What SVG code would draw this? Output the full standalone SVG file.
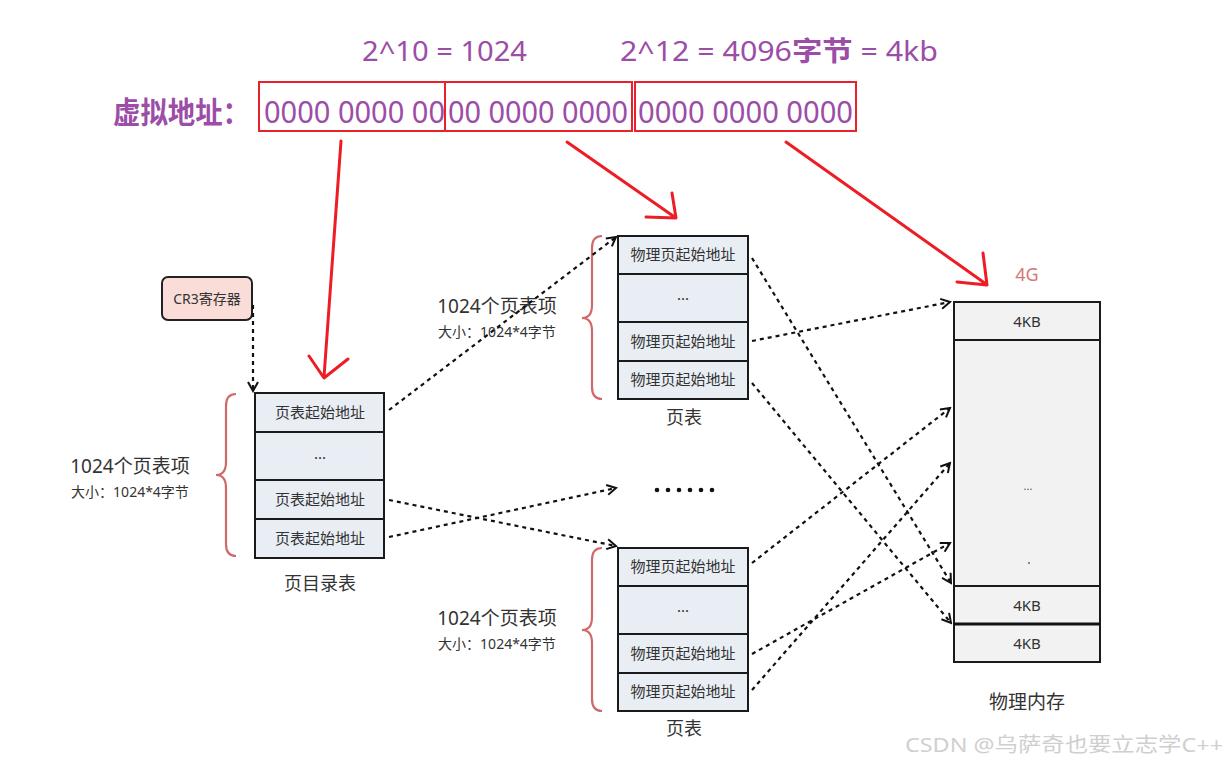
<svg xmlns="http://www.w3.org/2000/svg" width="1232" height="765" viewBox="0 0 1232 765">
  <defs>
    <marker id="open" viewBox="0 0 12 12" refX="10" refY="6" markerWidth="12" markerHeight="12" markerUnits="userSpaceOnUse" orient="auto">
      <path d="M1,1 L10,6 L1,11" fill="none" stroke="#111" stroke-width="2"/>
    </marker>
  </defs>
  <style>
    .cjk { font-family: "Noto Sans", "Noto Sans CJK SC", sans-serif; }
    .purple { fill: #9b4da7; }
    .addr { font-size: 30px; }
    .head { font-size: 27px; }
    .redbox { fill: none; stroke: #e8222a; stroke-width: 2; }
    .redpen { fill: none; stroke: #ee1c24; stroke-width: 3; stroke-linecap: round; stroke-linejoin: round; }
    .cell { fill: #e9eef4; stroke: #1a1a1a; stroke-width: 2; }
    .mem { fill: #f2f2f2; stroke: #1a1a1a; stroke-width: 2; }
    .ct { font-size: 15px; fill: #333; text-anchor: middle; }
    .lbl { font-size: 18px; fill: #333; text-anchor: middle; }
    .big { font-size: 19px; fill: #333; text-anchor: middle; }
    .sub { font-size: 14px; fill: #333; text-anchor: middle; }
    .brace { fill: none; stroke: #d06a6a; stroke-width: 2.2; }
    .dash { fill: none; stroke: #111; stroke-width: 2.2; stroke-dasharray: 4 4; marker-end: url(#open); }
  </style>
  <rect width="1232" height="765" fill="#ffffff"/>

  <!-- address bit fields -->
  <g id="address">
    <text class="cjk purple head" x="362" y="61" textLength="165" lengthAdjust="spacingAndGlyphs">2^10 = 1024</text>
    <text class="cjk purple head" x="620" y="61" textLength="318" lengthAdjust="spacingAndGlyphs">2^12 = 4096<tspan font-weight="bold">字节</tspan> = 4kb</text>
    <text class="cjk purple addr" x="113" y="123" font-weight="bold" font-size="28" textLength="137" lengthAdjust="spacingAndGlyphs">虚拟地址：</text>
    <rect class="redbox" x="259" y="82" width="186" height="49"/>
    <rect class="redbox" x="445" y="82" width="187" height="49"/>
    <rect class="redbox" x="635" y="82" width="221" height="49"/>
    <text class="cjk purple addr" x="264" y="123" textLength="181" lengthAdjust="spacingAndGlyphs">0000 0000 00</text>
    <text class="cjk purple addr" x="448" y="123" textLength="180" lengthAdjust="spacingAndGlyphs">00 0000 0000</text>
    <text class="cjk purple addr" x="638" y="123" textLength="215" lengthAdjust="spacingAndGlyphs">0000 0000 0000</text>
  </g>

  <!-- hand-drawn red pointers -->
  <g id="red-arrows">
    <path class="redpen" d="M341,141 L324,377 M309,356 L324,378 L348,359"/>
    <path class="redpen" d="M567,142 L676,218 M646,217 L676,218 L672,193"/>
    <path class="redpen" d="M786,142 L986,284 M957,282 L987,285 L983,253"/>
  </g>

  <!-- CR3 register -->
  <g id="cr3">
    <rect x="162" y="277" width="90" height="43" rx="6" fill="#fadcd8" stroke="#222" stroke-width="2"/>
    <text class="cjk" x="207" y="304" font-size="14" fill="#333" text-anchor="middle">CR3寄存器</text>
  </g>

  <!-- page directory -->
  <g id="page-directory">
    <path class="brace" d="M236,394 Q226,394 226,406 L226,462 Q226,475 216,475 Q226,475 226,488 L226,544 Q226,556 236,556"/>
    <text class="cjk big" x="130" y="473">1024个页表项</text>
    <text class="cjk sub" x="130" y="497">大小：1024*4字节</text>
    <rect class="cell" x="255" y="393" width="129" height="39"/>
    <rect class="cell" x="255" y="432" width="129" height="48"/>
    <rect class="cell" x="255" y="480" width="129" height="39"/>
    <rect class="cell" x="255" y="519" width="129" height="39"/>
    <text class="cjk ct" x="320" y="418">页表起始地址</text>
    <text class="cjk ct" x="320" y="459">...</text>
    <text class="cjk ct" x="320" y="505">页表起始地址</text>
    <text class="cjk ct" x="320" y="544">页表起始地址</text>
    <text class="cjk lbl" x="320" y="590">页目录表</text>
  </g>

  <!-- upper page table -->
  <g id="page-table-1">
    <path class="brace" d="M602,236 Q592,236 592,248 L592,305 Q592,318 582,318 Q592,318 592,331 L592,387 Q592,399 602,399"/>
    <text class="cjk big" x="497" y="313">1024个页表项</text>
    <text class="cjk sub" x="497" y="337">大小：1024*4字节</text>
    <rect class="cell" x="618" y="236" width="130" height="38"/>
    <rect class="cell" x="618" y="274" width="130" height="48"/>
    <rect class="cell" x="618" y="322" width="130" height="39"/>
    <rect class="cell" x="618" y="361" width="130" height="38"/>
    <text class="cjk ct" x="683" y="260">物理页起始地址</text>
    <text class="cjk ct" x="683" y="300">...</text>
    <text class="cjk ct" x="683" y="347">物理页起始地址</text>
    <text class="cjk ct" x="683" y="385">物理页起始地址</text>
    <text class="cjk lbl" x="684" y="424">页表</text>
  </g>

  <!-- lower page table -->
  <g id="page-table-2">
    <path class="brace" d="M602,548 Q592,548 592,560 L592,617 Q592,630 582,630 Q592,630 592,643 L592,699 Q592,711 602,711"/>
    <text class="cjk big" x="497" y="625">1024个页表项</text>
    <text class="cjk sub" x="497" y="649">大小：1024*4字节</text>
    <rect class="cell" x="618" y="548" width="130" height="38"/>
    <rect class="cell" x="618" y="586" width="130" height="48"/>
    <rect class="cell" x="618" y="634" width="130" height="39"/>
    <rect class="cell" x="618" y="673" width="130" height="38"/>
    <text class="cjk ct" x="683" y="572">物理页起始地址</text>
    <text class="cjk ct" x="683" y="612">...</text>
    <text class="cjk ct" x="683" y="659">物理页起始地址</text>
    <text class="cjk ct" x="683" y="697">物理页起始地址</text>
    <text class="cjk lbl" x="684" y="735">页表</text>
  </g>

  <!-- further page tables elided -->
  <g id="ellipsis" fill="#111">
    <circle cx="657" cy="490" r="2.3"/>
    <circle cx="668" cy="490" r="2.3"/>
    <circle cx="679" cy="490" r="2.3"/>
    <circle cx="690" cy="490" r="2.3"/>
    <circle cx="701" cy="490" r="2.3"/>
    <circle cx="712" cy="490" r="2.3"/>
  </g>

  <!-- physical memory -->
  <g id="physical-memory">
    <text class="cjk" x="1027" y="281" font-size="18" fill="#d47777" text-anchor="middle">4G</text>
    <rect class="mem" x="954" y="302" width="146" height="38"/>
    <rect class="mem" x="954" y="340" width="146" height="246"/>
    <rect class="mem" x="954" y="586" width="146" height="38"/>
    <rect class="mem" x="954" y="624" width="146" height="38"/>
    <line x1="954" y1="624" x2="1100" y2="624" stroke="#111" stroke-width="3"/>
    <text class="cjk ct" x="1027" y="327">4KB</text>
    <text class="cjk" x="1028" y="490" font-size="11" fill="#555" text-anchor="middle">...</text>
    <circle cx="1029" cy="563" r="0.9" fill="#555"/>
    <text class="cjk ct" x="1027" y="611">4KB</text>
    <text class="cjk ct" x="1027" y="649">4KB</text>
    <text class="cjk big" x="1027" y="709">物理内存</text>
  </g>

  <!-- dashed pointers between tables -->
  <g id="connectors">
    <path class="dash" d="M253,305 L253,391"/>
    <path class="dash" d="M389,410 L616,237"/>
    <path class="dash" d="M389,500 L616,546"/>
    <path class="dash" d="M389,537 L616,488"/>
    <path class="dash" d="M752,258 L951,583"/>
    <path class="dash" d="M752,341 L950,302"/>
    <path class="dash" d="M752,383 L951,623"/>
    <path class="dash" d="M752,563 L950,408"/>
    <path class="dash" d="M752,654 L950,543"/>
    <path class="dash" d="M752,690 L950,463"/>
  </g>

  <!-- watermark -->
  <text class="cjk" x="905" y="752" font-size="20" fill="#cfcfcf" textLength="318" lengthAdjust="spacingAndGlyphs">CSDN @乌萨奇也要立志学C++</text>
</svg>
